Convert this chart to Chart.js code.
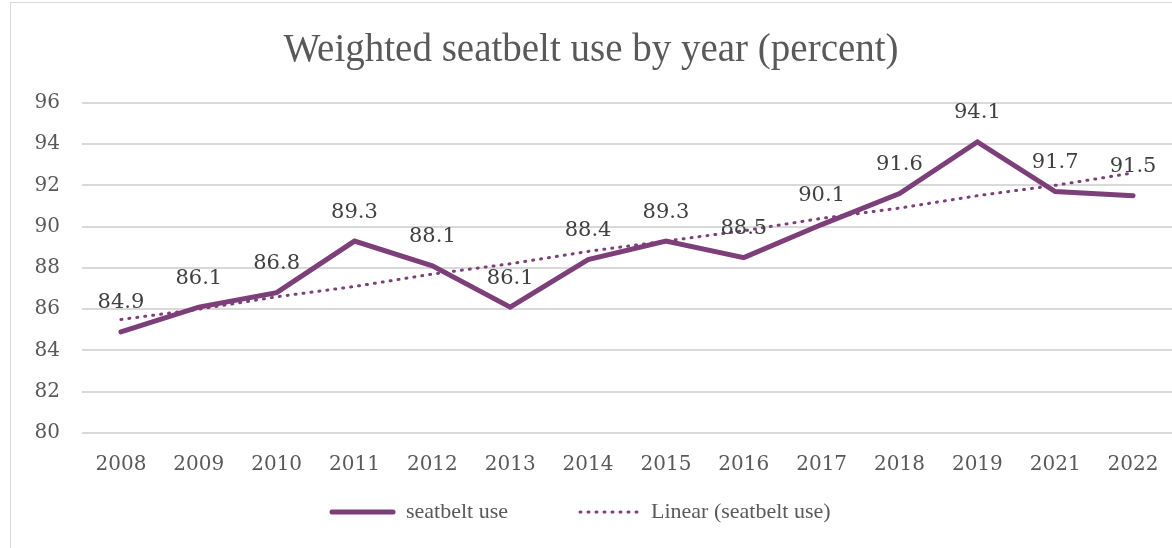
<!DOCTYPE html>
<html>
<head>
<meta charset="utf-8">
<script src="https://cdn.jsdelivr.net/npm/chart.js@4"></script>
<style>
  body { margin: 0; background: #fff; }
  #box { position: absolute; left: 10px; top: 2px; width: 1170px; height: 560px; border: 1px solid #d9d9d9; }
  #wrap { position: absolute; left: 0; top: 0; width: 1172px; height: 548px; }
</style>
</head>
<body>
<div id="box"></div>
<div id="wrap"><canvas id="myChart"></canvas></div>
<script>
const years = ["2008", "2009", "2010", "2011", "2012", "2013", "2014", "2015", "2016", "2017", "2018", "2019", "2021", "2022"];
const seatbeltUse = [84.9, 86.1, 86.8, 89.3, 88.1, 86.1, 88.4, 89.3, 88.5, 90.1, 91.6, 94.1, 91.7, 91.5];
// trend line
const trendLine = [85.5, 86.0, 86.6, 87.1, 87.7, 88.2, 88.8, 89.3, 89.8, 90.4, 90.9, 91.5, 92.0, 92.6];
const yTicks = [80, 82, 84, 86, 88, 90, 92, 94, 96];

const purple = "#7d3f79";
const grey = "#595959";

// labels above the points
const pointLabels = {
  id: "pointLabels",
  afterDatasetsDraw(chart) {
    const ctx = chart.ctx;
    const meta = chart.getDatasetMeta(0);
    ctx.save();
    ctx.font = "21px 'DejaVu Serif'";
    ctx.fillStyle = "#404040";
    ctx.textAlign = "center";
    ctx.textBaseline = "middle";
    meta.data.forEach((pt, i) => {
      ctx.fillText(seatbeltUse[i].toFixed(1), pt.x, pt.y - 29);
    });
    ctx.restore();
  },
};

// legend at the bottom, drawn by hand
const bottomLegend = {
  id: "bottomLegend",
  afterDraw(chart) {
    const ctx = chart.ctx;
    const y = 512;
    ctx.save();
    ctx.font = "22px 'Liberation Serif'";
    ctx.fillStyle = grey;
    ctx.textBaseline = "middle";
    ctx.strokeStyle = purple;
    ctx.lineCap = "round";

    ctx.lineWidth = 5;
    ctx.beginPath();
    ctx.moveTo(332, y);
    ctx.lineTo(393, y);
    ctx.stroke();
    ctx.fillText(chart.data.datasets[0].label, 406, y);

    ctx.lineWidth = 3;
    ctx.setLineDash([1, 7]);
    ctx.beginPath();
    ctx.moveTo(580, y);
    ctx.lineTo(640, y);
    ctx.stroke();
    ctx.setLineDash([]);
    ctx.fillText(chart.data.datasets[1].label, 651, y);
    ctx.restore();
  },
};

const ctx = document.getElementById("myChart");
const myChart = new Chart(ctx, {
  type: "line",
  data: {
    labels: years,
    datasets: [
      {
        label: "seatbelt use",
        data: seatbeltUse,
        borderColor: purple,
        backgroundColor: purple,
        borderWidth: 5,
        borderCapStyle: "round",
        borderJoinStyle: "miter",
        pointRadius: 0,
        tension: 0,
      },
      {
        label: "Linear (seatbelt use)",
        data: trendLine,
        borderColor: purple,
        backgroundColor: purple,
        borderWidth: 3,
        borderDash: [1, 7],
        borderCapStyle: "round",
        pointRadius: 0,
        tension: 0,
      },
    ],
  },
  options: {
    responsive: true,
    maintainAspectRatio: false,
    animation: false,
    layout: {
      padding: { left: 10, right: 0, top: 0, bottom: 59 },
    },
    plugins: {
      title: {
        display: true,
        text: "Weighted seatbelt use by year (percent)",
        color: grey,
        font: { family: "'Liberation Serif'", size: 39, weight: "normal" },
        padding: { top: 27, bottom: 29 },
      },
      legend: { display: false },
      tooltip: { enabled: false },
    },
    scales: {
      x: {
        offset: true,
        grid: { display: false },
        border: { display: false },
        ticks: {
          color: grey,
          font: { family: "'DejaVu Serif'", size: 20 },
          padding: 12,
          maxRotation: 0,
        },
      },
      y: {
        min: 80,
        max: 96,
        afterBuildTicks: (axis) => {
          axis.ticks = yTicks.map((v) => ({ value: v }));
        },
        afterFit: (axis) => {
          axis.width = 72;
        },
        grid: { color: "#d9d9d9", lineWidth: 2, drawTicks: false },
        border: { display: false },
        ticks: {
          color: grey,
          font: { family: "'DejaVu Serif'", size: 20 },
          padding: 22,
        },
      },
    },
  },
  plugins: [pointLabels, bottomLegend],
});
</script>
</body>
</html>
